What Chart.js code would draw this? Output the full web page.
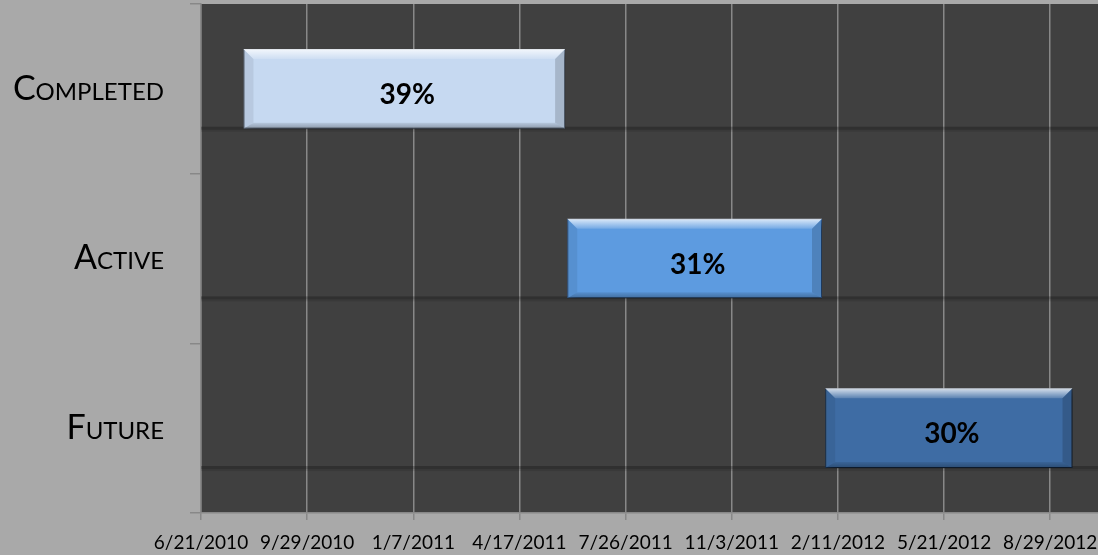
<!DOCTYPE html>
<html>
<head>
<meta charset="utf-8">
<script src="https://cdn.jsdelivr.net/npm/chart.js@4.4.0/dist/chart.umd.min.js"></script>
<style>
  html, body { margin: 0; padding: 0; background: #a9a9a9; }
  #wrap { width: 1098px; height: 555px; }
</style>
</head>
<body>
<div id="wrap"><canvas id="myChart" width="1098" height="555"></canvas></div>
<script>
// phases and their date spans
var phases = ["Completed", "Active", "Future"];
var startDates = ["2010-07-31", "2011-06-01", "2012-01-30"];
var endDates = ["2011-05-30", "2012-01-27", "2012-09-19"];
var pctLabels = ["39%", "31%", "30%"];

// x axis
var axisStart = "2010-06-21";
var axisEnd = "2012-10-13";
var tickLabels = ["6/21/2010", "9/29/2010", "1/7/2011", "4/17/2011", "7/26/2011",
                  "11/3/2011", "2/11/2012", "5/21/2012", "8/29/2012"];

var barColors = ["#c6d9f1", "#5d9be0", "#3e6ca4"];
var barBorders = ["#93a8c4", "#3f72b3", "#1f3c62"];

// days since axis start
function dayNo(s) {
  var a = s.split("-"), b = axisStart.split("-");
  return Math.round((Date.UTC(a[0], a[1] - 1, a[2]) - Date.UTC(b[0], b[1] - 1, b[2])) / 86400000);
}

var spans = [];
for (var i = 0; i < phases.length; i++) {
  spans.push([dayNo(startDates[i]), dayNo(endDates[i])]);
}

// no extra room for overflowing tick labels
function noPad(scale) {
  scale.paddingTop = 0;
  scale.paddingBottom = 0;
  scale.paddingLeft = 0;
  scale.paddingRight = 0;
}

// dark line under each row + drop shadow for the bars
var rowShadow = {
  id: "rowShadow",
  beforeDatasetsDraw: function(chart) {
    var ctx = chart.ctx, area = chart.chartArea;
    var meta = chart.getDatasetMeta(0);
    ctx.save();
    meta.data.forEach(function(bar) {
      var p = bar.getProps(["y", "height"], true);
      var yb = p.y + p.height / 2;
      ctx.fillStyle = "rgba(0,0,0,0.25)";
      ctx.fillRect(area.left, yb - 2, area.right - area.left, 3);
      ctx.fillStyle = "rgba(0,0,0,0.1)";
      ctx.fillRect(area.left, yb + 1, area.right - area.left, 2);
    });
    ctx.restore();
  },
  beforeDatasetDraw: function(chart) {
    var ctx = chart.ctx;
    ctx.save();
    ctx.shadowColor = "rgba(0,0,0,0.55)";
    ctx.shadowBlur = 8;
    ctx.shadowOffsetX = 3;
    ctx.shadowOffsetY = 3;
  },
  afterDatasetDraw: function(chart) {
    chart.ctx.restore();
  }
};

// bevel faces + percentage labels
var bevel = {
  id: "bevel",
  afterDatasetsDraw: function(chart) {
    var ctx = chart.ctx;
    var meta = chart.getDatasetMeta(0);
    ctx.save();
    meta.data.forEach(function(bar, idx) {
      var p = bar.getProps(["x", "y", "base", "height"], true);
      var x0 = Math.min(p.x, p.base), x1 = Math.max(p.x, p.base);
      var y0 = p.y - p.height / 2, y1 = p.y + p.height / 2;
      var b = 10, bb = 6;

      // top face
      var g = ctx.createLinearGradient(0, y0, 0, y0 + b);
      g.addColorStop(0, "rgba(255,255,255,0.8)");
      g.addColorStop(1, "rgba(255,255,255,0.15)");
      ctx.fillStyle = g;
      ctx.beginPath();
      ctx.moveTo(x0, y0); ctx.lineTo(x1, y0); ctx.lineTo(x1 - b, y0 + b); ctx.lineTo(x0 + b, y0 + b);
      ctx.closePath(); ctx.fill();

      // bottom face
      g = ctx.createLinearGradient(0, y1 - bb, 0, y1);
      g.addColorStop(0, "rgba(0,0,0,0.08)");
      g.addColorStop(1, "rgba(0,0,0,0.3)");
      ctx.fillStyle = g;
      ctx.beginPath();
      ctx.moveTo(x0, y1); ctx.lineTo(x1, y1); ctx.lineTo(x1 - b, y1 - bb); ctx.lineTo(x0 + b, y1 - bb);
      ctx.closePath(); ctx.fill();

      // left face
      ctx.fillStyle = "rgba(0,0,0,0.07)";
      ctx.beginPath();
      ctx.moveTo(x0, y0); ctx.lineTo(x0 + b, y0 + b); ctx.lineTo(x0 + b, y1 - bb); ctx.lineTo(x0, y1);
      ctx.closePath(); ctx.fill();

      // right face
      ctx.fillStyle = "rgba(0,0,0,0.16)";
      ctx.beginPath();
      ctx.moveTo(x1, y0); ctx.lineTo(x1 - b, y0 + b); ctx.lineTo(x1 - b, y1 - bb); ctx.lineTo(x1, y1);
      ctx.closePath(); ctx.fill();

      // label
      ctx.fillStyle = "#000";
      ctx.font = "bold 28px Lato";
      ctx.textAlign = "center";
      ctx.textBaseline = "middle";
      ctx.fillText(pctLabels[idx], (x0 + x1) / 2 + 3, p.y + 6);
    });
    ctx.restore();
  }
};

var chart = new Chart(document.getElementById("myChart").getContext("2d"), {
  type: "bar",
  data: {
    labels: phases,
    datasets: [{
      data: spans,
      backgroundColor: barColors,
      borderColor: barBorders,
      borderWidth: 1,
      borderSkipped: false,
      barPercentage: 0.47,
      categoryPercentage: 1
    }]
  },
  options: {
    indexAxis: "y",
    responsive: false,
    animation: false,
    layout: { padding: { top: 4, right: 0, left: 0, bottom: 0 } },
    plugins: {
      legend: { display: false },
      tooltip: { enabled: false }
    },
    scales: {
      x: {
        type: "linear",
        min: 0,
        max: dayNo(axisEnd),
        grid: { color: "#888888", lineWidth: 1.5, tickLength: 7 },
        border: { color: "#888888", width: 1.5 },
        ticks: {
          stepSize: 100,
          includeBounds: false,
          autoSkip: false,
          maxRotation: 0,
          padding: 11,
          color: "#000",
          font: { family: "Lato", size: 19 },
          callback: function(v, i) { return tickLabels[i]; }
        },
        afterFit: function(scale) { scale.height = 42; noPad(scale); }
      },
      y: {
        grid: { drawOnChartArea: false, color: "#888888", lineWidth: 1.5, tickLength: 11, offset: true },
        border: { color: "#888888", width: 1.5 },
        ticks: {
          padding: 26,
          color: "#000",
          font: { family: "Lato", size: 34, weight: "small-caps" }
        },
        afterFit: function(scale) { scale.width = 201; noPad(scale); }
      }
    }
  },
  plugins: [{
    id: "bg",
    beforeDraw: function(c) {
      var ctx = c.ctx, a = c.chartArea;
      ctx.save();
      ctx.fillStyle = "#a9a9a9";
      ctx.fillRect(0, 0, c.width, c.height);
      ctx.fillStyle = "#404040";
      ctx.fillRect(a.left, a.top, a.right - a.left, a.bottom - a.top);
      ctx.restore();
    }
  }, rowShadow, bevel]
});
</script>
</body>
</html>
